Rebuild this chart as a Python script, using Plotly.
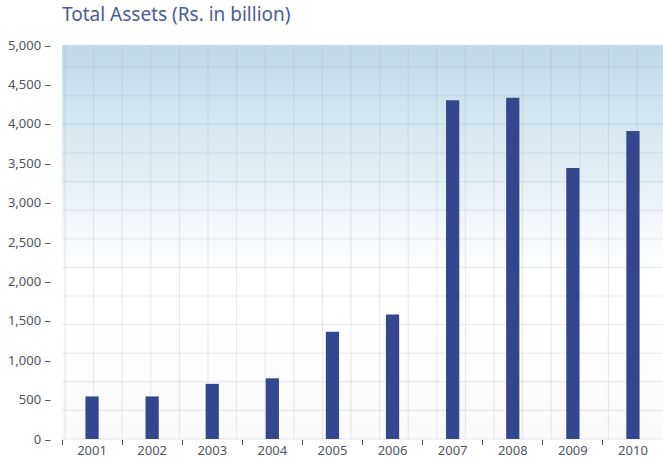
import plotly.graph_objects as go

# Total assets by year (Rs. in billion)
years = ["2001", "2002", "2003", "2004", "2005", "2006", "2007", "2008", "2009", "2010"]
assets = [540, 540, 700, 770, 1360, 1580, 4300, 4330, 3440, 3910]

y_ticks = [0, 500, 1000, 1500, 2000, 2500, 3000, 3500, 4000, 4500, 5000]
y_ticktext = [f"{v:,} \u2013" for v in y_ticks]

BAR = "#34478e"
LABEL = "#50555c"
FONT = "Noto Sans, Open Sans, sans-serif"

fig = go.Figure()
fig.add_trace(go.Bar(x=years, y=assets, marker=dict(color=BAR, line=dict(width=0)),
                     width=0.22, hoverinfo="x+y"))

shapes = []
# vertical gradient background: light blue at the top fading to white
top = (192, 218, 232)
n_bands = 100
for i in range(n_bands):
    y0 = i / n_bands
    y1 = min(1.0, (i + 1.6) / n_bands)  # overlap so band edges do not show
    mid = (i + 0.5) / n_bands
    t = max(0.0, min(1.0, (mid - 0.42) / 0.58))
    # faint grey wash near the bottom
    g = 5 * max(0.0, 1 - mid / 0.3)
    base = (255 - g, 255 - g, 255 - g)
    col = tuple(int(round(b + (tc - b) * t)) for b, tc in zip(base, top))
    shapes.append(dict(type="rect", xref="paper", yref="paper", x0=0, x1=1, y0=y0, y1=y1,
                       fillcolor=f"rgb{col}", line=dict(width=0), layer="below"))

# decorative square grid over the background
plot_w, plot_h = 601, 394
cell = 28.6
k = 0
while k * cell <= plot_h:
    yy = k * cell / plot_h
    shapes.append(dict(type="line", xref="paper", yref="paper", x0=0, x1=1, y0=yy, y1=yy,
                       line=dict(color="rgba(140,160,178,0.22)", width=1), layer="below"))
    k += 1
k = 0
while k * cell <= plot_w:
    xx = (3 + k * cell) / plot_w
    shapes.append(dict(type="line", xref="paper", yref="paper", x0=xx, x1=xx, y0=0, y1=1,
                       line=dict(color="rgba(140,160,178,0.22)", width=1), layer="below"))
    k += 1

fig.update_layout(
    width=663, height=461,
    margin=dict(l=62, r=0, t=45, b=22),
    paper_bgcolor="white",
    plot_bgcolor="white",
    showlegend=False,
    bargap=0.78,
    shapes=shapes,
    font=dict(family=FONT, color=LABEL, size=13),
    title=dict(text="Total Assets (Rs. in billion)", x=62 / 663, xanchor="left",
               y=1 - 8 / 461, yanchor="top",
               font=dict(size=19, color="#4b5a9c", family=FONT)),
    xaxis=dict(type="category", showgrid=False, zeroline=False, showline=False,
               ticks="outside", tickson="boundaries", ticklen=5, tickwidth=1,
               tickcolor="#555555", ticklabelstandoff=2,
               tickfont=dict(size=13, color=LABEL)),
    yaxis=dict(range=[0, 5000], tickvals=y_ticks, ticktext=y_ticktext, showgrid=False,
               zeroline=False, showline=False, ticks="", ticklabelstandoff=10,
               tickfont=dict(size=13, color=LABEL)),
)

fig.write_html("out.html")
